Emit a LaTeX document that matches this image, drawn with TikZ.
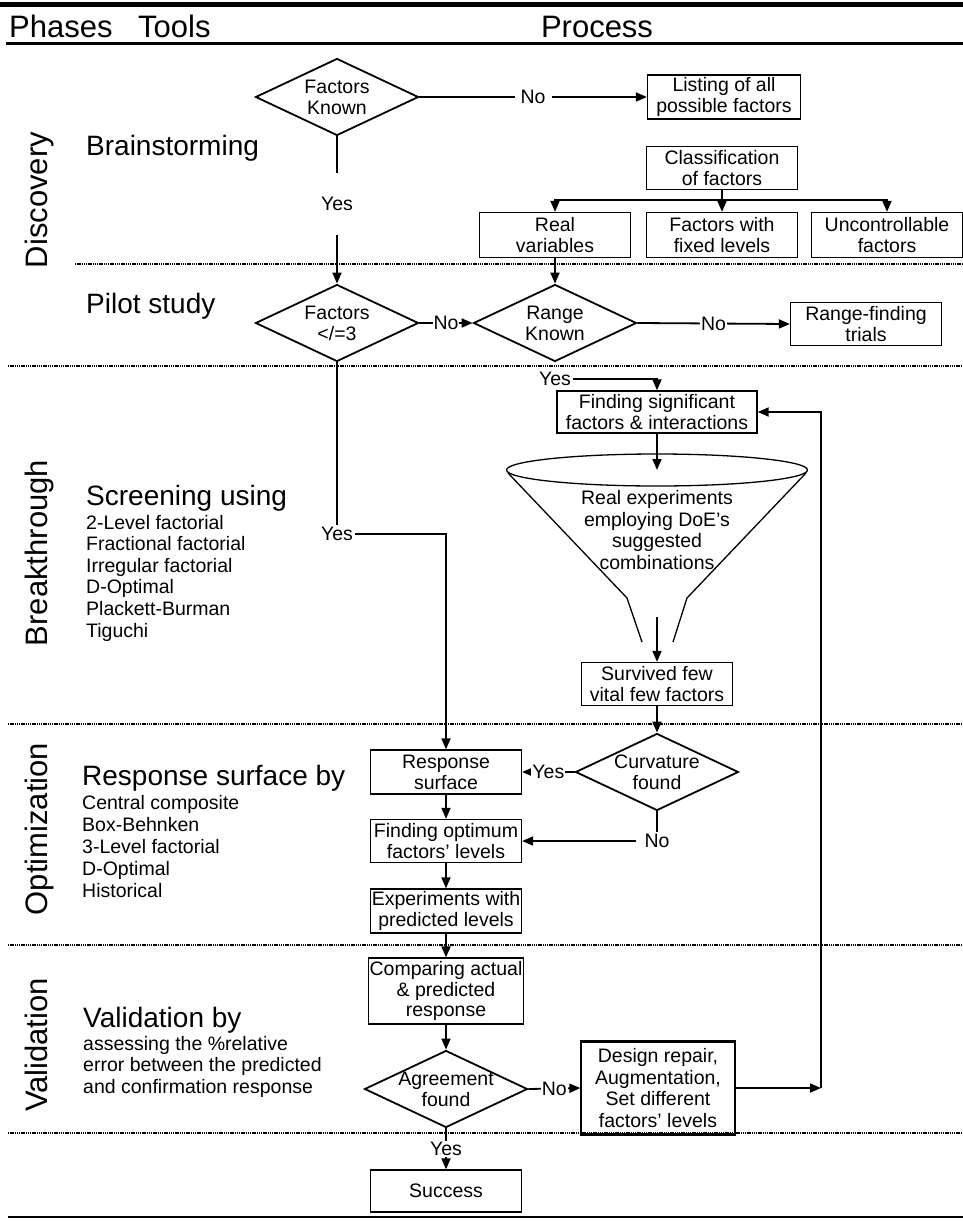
\documentclass[tikz,border=0pt]{standalone}
\usepackage{fontspec}
\setmainfont{Liberation Sans}
\usetikzlibrary{arrows.meta,shapes.geometric}

\newcommand{\boxfont}{\fontsize{19.5}{20.8}\selectfont}

\tikzset{
    head/.style={inner sep=0pt, font=\fontsize{31}{36}\selectfont},
    phase/.style={rotate=90, anchor=base, inner sep=0pt, font=\fontsize{31}{36}\selectfont},
    tool/.style={anchor=base west, inner sep=0pt, font=\fontsize{28}{32}\selectfont},
    item/.style={anchor=base west, inner sep=0pt, font=\fontsize{19.5}{21.7}\selectfont},
    pbox/.style={draw, line width=1.3pt, align=center, inner sep=1pt, font=\boxfont,
        minimum width=151pt, minimum height=43pt},
    dia/.style={draw, diamond, line width=1.8pt, inner sep=0pt,
        minimum width=163pt, minimum height=77pt},
    dtxt/.style={align=center, inner sep=0pt, font=\boxfont},
    lbl/.style={fill=white, inner sep=2pt, font=\boxfont},
    conn/.style={line width=1.8pt, -{Triangle[length=11pt,width=9pt]}},
    wire/.style={line width=1.8pt},
    phaseline/.style={line width=1.3pt, dash pattern=on 1.4pt off 0.8pt},
}

\begin{document}
\begin{tikzpicture}[x=1pt, y=-1pt]
\useasboundingbox (0,0) rectangle (963,1221);

% header
\draw[line width=5pt] (0,4.5) -- (963,4.5);
\node[head, anchor=base west] (phases) at (9,37) {Phases};
\node[head, anchor=base west] (tools) at (138,37) {Tools};
\node[head, anchor=base] (process) at (597,37) {Process};
\draw[line width=3pt] (6,43) -- (963,43);

% phase separators
\draw[phaseline] (75,264) -- (963,264);
\foreach \y in {366,724,945,1133}
    \draw[phaseline] (8,\y) -- (963,\y);
\draw[line width=2pt] (8,1217) -- (963,1217);

% phases
\node[phase] (disc) at (47,200) {Discovery};
\node[phase] (brk) at (47,553) {Breakthrough};
\node[phase] (optm) at (47,829) {Optimization};
\node[phase] (valid) at (47,1045) {Validation};

% tools
\node[tool] (brain) at (86,155) {Brainstorming};
\node[tool] (pilot) at (86,313) {Pilot study};
\node[tool] (screen) at (86,505) {Screening using};
\foreach \t [count=\i] in {2-Level factorial,Fractional factorial,Irregular factorial,
        D-Optimal,Plackett-Burman,Tiguchi}
    \node[item] (scr\i) at (86,507.5+21.6*\i) {\t};
\node[tool] (rsm) at (82,785) {Response surface by};
\foreach \t [count=\i] in {Central composite,Box-Behnken,3-Level factorial,D-Optimal,Historical}
    \node[item] (rsm\i) at (82,787.5+21.9*\i) {\t};
\node[tool] (valby) at (83,1027) {Validation by};
\foreach \t [count=\i] in {assessing the \%relative,error between the predicted,
        and confirmation response}
    \node[item] (val\i) at (83,1028.5+21.5*\i) {\t};

% process
\node[dia, label={[dtxt]center:Factors\\Known}] (fk) at (337,97) {};
\node[pbox, minimum width=153pt, minimum height=44pt] (list) at (724,97) {Listing of all\\possible factors};
\node[pbox] (class) at (722,168) {Classification\\of factors};
\node[pbox, minimum height=45pt] (realvar) at (555,235) {Real\\variables};
\node[pbox, minimum height=45pt] (fixed) at (722,235) {Factors with\\fixed levels};
\node[pbox, minimum height=45pt] (uncon) at (887,235) {Uncontrollable\\factors};
\node[dia, label={[dtxt]center:Factors\\\textless/=3}] (f3) at (337,323) {};
\node[dia, label={[dtxt]center:Range\\Known}] (rk) at (555,323) {};
\node[pbox] (range) at (866,324) {Range-finding\\trials};
\node[pbox, minimum width=200pt, minimum height=42pt] (find) at (657,412) {Finding significant\\factors \& interactions};
\node[draw, ellipse, line width=1.3pt, minimum width=301pt, minimum height=32pt] (funnel) at (657,470) {};
\draw[line width=1.3pt] (508,473) -- (627,598) -- (642,642);
\draw[line width=1.3pt] (806,473) -- (687,598) -- (673,642);
\node[dtxt, font=\fontsize{19.5}{21.5}\selectfont] (funtxt) at (657,530) {Real experiments\\employing DoE’s\\suggested\\combinations};
\coordinate (spout) at (657,617);
\node[pbox] (surv) at (657,684) {Survived few\\vital few factors};
\node[dia, label={[dtxt]center:Curvature\\found}] (curv) at (657,772) {};
\node[pbox, minimum height=44pt] (resp) at (446,772) {Response\\surface};
\node[pbox] (opt) at (446,841) {Finding optimum\\factors’ levels};
\node[pbox, minimum height=44pt] (expt) at (446,911) {Experiments with\\predicted levels};
\node[pbox, minimum width=154pt, minimum height=66pt] (comp) at (446,991) {Comparing actual\\\& predicted\\response};
\node[dia, label={[dtxt]center:Agreement\\found}] (agree) at (446,1089) {};
\node[pbox, minimum width=154pt, minimum height=91pt, font=\fontsize{19.5}{21.5}\selectfont] (design) at (658,1088) {Design repair,\\Augmentation,\\Set different\\factors’ levels};
\draw[line width=3pt] (design.north west) -- (design.north east);
\draw[line width=3pt] (design.south west) -- (design.south east);
\node[pbox, minimum height=42pt] (success) at (446,1191) {Success};
\coordinate (loop) at (821,1088);

% connectors
\draw[conn] (fk.east) -- node[lbl, inner xsep=6pt] (no1) {No} (list.west);
\draw[conn] (fk.south) -- node[lbl, pos=0.46, inner ysep=24pt] (yes1) {Yes} (f3.north);
\draw[conn] (class.south) -- ++(0,10) -| (realvar.north);
\draw[conn] (class.south) -- ++(0,10) -| (uncon.north);
\draw[conn] (class) -- (fixed);
\draw[conn] (realvar) -- (rk);
\draw[conn] (f3.east) -- node[lbl, inner sep=1pt] (no2) {No} (rk.west);
\draw[conn] (rk.east) -- node[lbl, inner sep=1pt] (no3) {No} (range.west);
\node[lbl] (yes2) at (555,379) {Yes};
\draw[conn] (yes2.east) -| (find.north);
\draw[conn] (find) -- (funnel.center);
\draw[conn] (spout) -- (surv);
\draw[conn] (surv) -- (curv);
\draw[conn] (curv.west) -- node[lbl, inner sep=1pt] (yes4) {Yes} (resp.east);
\node[lbl, inner xsep=8pt] (no4) at (curv.south |- opt.east) {No};
\draw[wire] (curv.south) -- (no4);
\draw[conn] (no4) -- (opt.east);
\node[lbl] (yes3) at (337,534) {Yes};
\draw[wire] (f3.south) -- (yes3);
\draw[conn] (yes3.east) -| (resp.north);
\draw[conn] (resp) -- (opt);
\draw[conn] (opt) -- (expt);
\draw[conn] (expt) -- (comp);
\draw[conn] (comp) -- (agree);
\draw[conn] (agree.east) -- node[lbl, inner sep=1pt] (no5) {No} (design.west);
\draw[conn] (agree) -- node[lbl, inner sep=1pt] (yes5) {Yes} (success);
\draw[conn] (design.east) -- (loop);
\draw[conn] (loop) |- (find.east);
\end{tikzpicture}
\end{document}
